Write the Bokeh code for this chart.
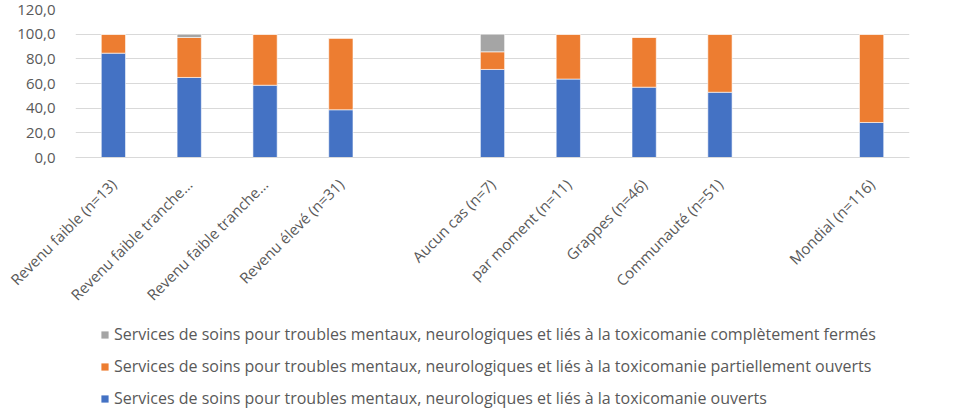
import math
from bokeh.plotting import figure
from bokeh.layouts import column
from bokeh.models import (ColumnDataSource, Range1d, FixedTicker, Legend, LegendItem)
from bokeh.embed import file_html
from bokeh.resources import INLINE

# ---- data ----
categories = ["Revenu faible (n=13)", "Revenu faible tranche…", "Revenu faible tranche…",
              "Revenu élevé (n=31)", "Aucun cas (n=7)", "par moment (n=11)",
              "Grappes (n=46)", "Communauté (n=51)", "Mondial (n=116)"]
groups = [4, 4, 1]  # bars per group; an empty slot separates groups
ouverts = [84.6, 64.9, 58.6, 38.7, 71.4, 63.6, 57.0, 52.9, 28.4]
partiellement = [15.4, 32.4, 41.4, 58.1, 14.3, 36.4, 40.5, 47.1, 71.6]
fermes = [0.0, 2.7, 0.0, 0.0, 14.3, 0.0, 0.0, 0.0, 0.0]
y_ticks = [0, 20, 40, 60, 80, 100, 120]
series_names = [
    "Services de soins pour troubles mentaux, neurologiques et liés à la toxicomanie ouverts",
    "Services de soins pour troubles mentaux, neurologiques et liés à la toxicomanie partiellement ouverts",
    "Services de soins pour troubles mentaux, neurologiques et liés à la toxicomanie complètement fermés",
]
colors = ["#4472C4", "#ED7D31", "#A5A5A5"]

# slot positions with gaps between groups
xs = []
slot = 0
for g in groups:
    for _ in range(g):
        xs.append(slot)
        slot += 1
    slot += 1
n_slots = slot - 1

src = ColumnDataSource(dict(x=xs, ouverts=ouverts, partiellement=partiellement, fermes=fermes))

FONT = "Open Sans"
TXT = "#595959"

chart = figure(frame_width=834, frame_height=148, output_backend="svg", toolbar_location=None,
               x_range=Range1d(-0.5, n_slots - 0.5), y_range=Range1d(0, 120),
               min_border_left=75, min_border_right=42, min_border_top=9, min_border_bottom=148,
               outline_line_color=None)

chart.vbar_stack(["ouverts", "partiellement", "fermes"], x="x", width=0.32,
                 source=src, color=colors, line_color="white", line_width=0.6)

# axes
chart.yaxis.ticker = FixedTicker(ticks=y_ticks)
chart.yaxis.major_label_overrides = {t: f"{t:.1f}".replace(".", ",") for t in y_ticks}
chart.yaxis.axis_line_color = None
chart.yaxis.major_tick_line_color = None
chart.yaxis.minor_tick_line_color = None
chart.yaxis.major_label_text_font = FONT
chart.yaxis.major_label_text_font_size = "15px"
chart.yaxis.major_label_text_color = TXT
chart.yaxis.major_label_standoff = 14

chart.xaxis.ticker = FixedTicker(ticks=xs)
chart.xaxis.major_label_overrides = {x: c for x, c in zip(xs, categories)}
chart.xaxis.major_label_orientation = math.pi / 4
chart.xaxis.major_label_standoff = 18
chart.xaxis.axis_line_color = "#D9D9D9"
chart.xaxis.major_tick_line_color = None
chart.xaxis.minor_tick_line_color = None
chart.xaxis.major_label_text_font = FONT
chart.xaxis.major_label_text_font_size = "15px"
chart.xaxis.major_label_text_color = TXT

chart.xgrid.grid_line_color = None
chart.ygrid.grid_line_color = "#D9D9D9"
chart.ygrid.grid_line_width = 1

# ---- legend (separate strip under the chart) ----
leg = figure(width=951, height=94, output_backend="svg", toolbar_location=None,
             x_range=Range1d(0, 1), y_range=Range1d(0, 1),
             x_axis_type=None, y_axis_type=None, outline_line_color=None,
             min_border_left=0, min_border_right=0, min_border_top=0, min_border_bottom=0)
leg.xgrid.grid_line_color = None
leg.ygrid.grid_line_color = None
# legend swatches only: zero-height bars outside the visible range
dummy = [leg.vbar(x=[-10], top=[0], bottom=[0], width=0.3, fill_color=c, line_color=None)
         for c in colors]

legend = Legend(items=[LegendItem(label=series_names[i], renderers=[dummy[i]]) for i in [2, 1, 0]],
                location=(25, -1), orientation="vertical",
                label_text_font=FONT, label_text_font_size="16px", label_text_color=TXT,
                glyph_width=9, glyph_height=9, label_height=17, spacing=10, label_standoff=5,
                padding=0, margin=0, border_line_alpha=0, background_fill_alpha=0)
leg.add_layout(legend, "center")

p = column(chart, leg, spacing=0)

open("out.html", "w").write(file_html(p, INLINE))
